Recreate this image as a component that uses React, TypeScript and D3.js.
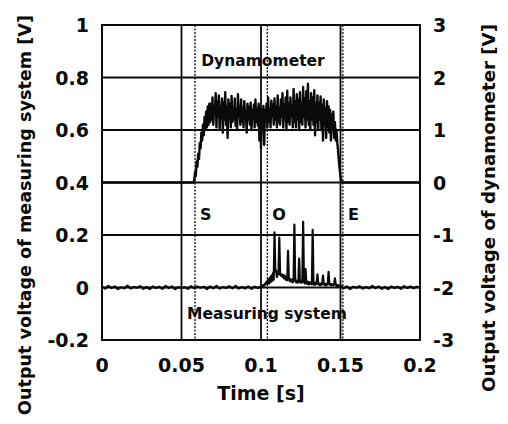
import React from "react";
import * as d3 from "d3";

// ---------- data ----------
const xTicks = [0, 0.05, 0.1, 0.15, 0.2];
const xTickLabels = ["0", "0.05", "0.1", "0.15", "0.2"];
const leftTicks = [-0.2, 0, 0.2, 0.4, 0.6, 0.8, 1];
const leftTickLabels = ["-0.2", "0", "0.2", "0.4", "0.6", "0.8", "1"];
const rightTicks = [-3, -2, -1, 0, 1, 2, 3];
const rightTickLabels = ["-3", "-2", "-1", "0", "1", "2", "3"];

const markerTimes = [0.0585, 0.104, 0.1515];
const markerLabels = ["S", "O", "E"];

// Dynamometer output [V] (right axis); flat 0 outside the active window
const dynBaseline = [
  [0, 0],
  [0.0578, 0],
];
const dynTail = [
  [0.151, 0],
  [0.2, 0],
];
const dynStart = 0.058;
const dynStep = 0.0005;
const dynValues = [
  0.05, 0.2, 0.12, 0.4, 0.3, 0.55, 0.45, 0.75, 0.65, 0.95,
  0.8, 1.1, 0.9, 1.25, 1.0, 1.35, 1.05, 1.45, 1.1, 1.5,
  1.15, 1.5, 1.2, 1.62, 1.1, 1.45, 1.3, 1.7, 1.05, 1.55,
  1.25, 1.66, 1.0, 1.4, 1.35, 1.6, 0.95, 1.52, 1.2, 1.72,
  1.1, 1.45, 0.85, 1.58, 1.3, 1.48, 1.05, 1.65, 1.15, 1.4,
  1.2, 1.6, 1.08, 1.38, 1.0, 1.68, 1.25, 1.45, 1.1, 1.58,
  1.15, 1.42, 1.05, 1.55, 1.25, 1.35, 0.95, 1.5, 1.2, 1.44,
  1.1, 1.52, 1.0, 1.38, 1.22, 1.48, 1.05, 1.58, 1.15, 1.4,
  1.08, 1.5, 0.8, 1.42, 0.65, 1.3, 1.1, 1.46, 0.72, 1.38,
  1.2, 1.5, 1.05, 1.62, 1.15, 1.4, 1.05, 1.56, 1.25, 1.48,
  1.1, 1.6, 1.2, 1.45, 1.05, 1.66, 1.15, 1.42, 1.1, 1.58,
  1.25, 1.7, 1.05, 1.48, 1.2, 1.62, 1.0, 1.75, 1.15, 1.5,
  1.1, 1.62, 1.25, 1.45, 1.05, 1.78, 1.15, 1.55, 1.05, 1.68,
  1.2, 1.58, 1.0, 1.72, 1.15, 1.5, 1.1, 1.82, 1.25, 1.6,
  1.05, 1.74, 1.2, 1.88, 1.1, 1.55, 1.0, 1.7, 1.2, 1.62,
  1.1, 1.76, 0.9, 1.5, 1.15, 1.66, 1.0, 1.52, 1.2, 1.64,
  1.0, 1.48, 0.8, 1.58, 1.1, 1.42, 0.85, 1.55, 1.05, 1.45,
  0.95, 1.38, 0.8, 1.3, 1.0, 1.35, 0.85, 1.15, 0.8, 1.0,
  0.75, 0.6, 0.4, 0.25, 0.1, 0.02,
];

// Measuring system output [V] (left axis)
const msPreStep = 0.002; // 0 .. 0.098
const msPreValues = [
  0.003, -0.004, 0.006, -0.002, 0.004, -0.006, 0.001, -0.003, 0.007, -0.004,
  0.002, -0.001, 0.005, -0.005, 0.002, -0.006, 0.004, -0.002, 0.003, -0.005,
  0.006, -0.002, 0.004, -0.006, 0.002, -0.003, 0.001, -0.005, 0.005, -0.003,
  0.004, -0.001, 0.003, -0.006, 0.004, -0.003, 0.006, -0.004, 0.002, -0.002,
  0.005, -0.003, 0.006, -0.004, 0.002, -0.004, 0.004, -0.005, 0.003, -0.002,
];
const msEventStart = 0.1;
const msEventStep = 0.0005; // 0.1 .. 0.15
const msEventValues = [
  0.004, 0.006, 0.003, 0.01, 0.008, 0.015, 0.012, 0.022, 0.018, 0.03,
  0.015, 0.038, 0.02, 0.045, 0.025, 0.055, 0.03, 0.21, 0.06, 0.065,
  0.04, 0.06, 0.05, 0.19, 0.055, 0.045, 0.05, 0.04, 0.048, 0.035,
  0.045, 0.03, 0.04, 0.028, 0.14, 0.035, 0.025, 0.032, 0.022, 0.03,
  0.02, 0.028, 0.24, 0.03, 0.02, 0.026, 0.018, 0.025, 0.11, 0.02,
  0.026, 0.018, 0.024, 0.25, 0.022, 0.015, 0.07, 0.02, 0.014, 0.022,
  0.012, 0.02, 0.014, 0.018, 0.012, 0.22, 0.016, 0.01, 0.018, 0.012,
  0.02, 0.05, 0.012, 0.016, 0.009, 0.015, 0.01, 0.018, 0.045, 0.012,
  0.015, 0.008, 0.014, 0.01, 0.016, 0.06, 0.012, 0.01, 0.014, 0.008,
  0.012, 0.009, 0.013, 0.035, 0.01, 0.006, 0.01, 0.005, 0.008, 0.004,
  0.006,
];
const msPostStart = 0.152;
const msPostStep = 0.002; // 0.152 .. 0.2
const msPostValues = [
  -0.003, 0.004, -0.006, 0.003, -0.001, 0.005, -0.004, 0.002, -0.003, 0.006,
  -0.002, 0.004, -0.005, 0.002, -0.006, 0.004, -0.002, 0.003, -0.005, 0.005,
  -0.002, 0.004, -0.003, 0.003, -0.002,
];

// ---------- layout ----------
const W = 508;
const H = 424;
const L = 102, R = 420, T = 25, B = 340;
const FONT = "'DejaVu Sans', Verdana, sans-serif";

export default function App() {
  const x = d3.scaleLinear().domain([0, 0.2]).range([L, R]);
  const yL = d3.scaleLinear().domain([-0.2, 1]).range([B, T]);
  const yR = d3.scaleLinear().domain([-3, 3]).range([B, T]);

  const dynPts: [number, number][] = dynBaseline.map((p) => [p[0], p[1]] as [number, number]);
  dynValues.forEach((v, i) => dynPts.push([dynStart + i * dynStep, v]));
  dynTail.forEach((p) => dynPts.push([p[0], p[1]]));

  const msPts: [number, number][] = [];
  msPreValues.forEach((v, i) => msPts.push([i * msPreStep, v]));
  msEventValues.forEach((v, i) => msPts.push([msEventStart + i * msEventStep, v]));
  msPostValues.forEach((v, i) => msPts.push([msPostStart + i * msPostStep, v]));

  const dynLine = d3.line<[number, number]>().x((d) => x(d[0])).y((d) => yR(d[1]));
  const msLine = d3.line<[number, number]>().x((d) => x(d[0])).y((d) => yL(d[1]));

  const ink = "#0a0a0a";

  return (
    <svg
      width={W}
      height={H}
      style={{ position: "absolute", left: 0, top: 0, background: "#fff" }}
      fontFamily={FONT}
      fontWeight="bold"
    >
      <rect x={0} y={0} width={W} height={H} fill="#fff" />
      {/* horizontal grid */}
      {leftTicks.slice(1, -1).map((t) => (
        <line key={"h" + t} x1={L} x2={R} y1={yL(t)} y2={yL(t)} stroke={ink} strokeWidth={1.8} />
      ))}
      {/* vertical grid */}
      {xTicks.slice(1, -1).map((t) => (
        <line key={"v" + t} x1={x(t)} x2={x(t)} y1={T} y2={B} stroke={ink} strokeWidth={1.8} />
      ))}
      {/* event markers */}
      {markerTimes.map((t, i) => (
        <g key={"m" + i}>
          <line x1={x(t)} x2={x(t)} y1={T} y2={B} stroke={ink} strokeWidth={1.3} strokeDasharray="2 1.5" />
          <text x={x(t) + 5} y={220} fontSize={16} fill={ink}>
            {markerLabels[i]}
          </text>
        </g>
      ))}
      {/* series */}
      <path d={dynLine(dynPts) || ""} fill="none" stroke={ink} strokeWidth={2.4} strokeLinejoin="round" />
      <path d={msLine(msPts) || ""} fill="none" stroke={ink} strokeWidth={2.2} strokeLinejoin="round" />
      {/* frame */}
      <rect x={L} y={T} width={R - L} height={B - T} fill="none" stroke={ink} strokeWidth={2} />
      {/* in-plot labels */}
      <text x={263} y={66} fontSize={15.5} textAnchor="middle" fill={ink}>Dynamometer</text>
      <text x={267} y={319} fontSize={15.5} textAnchor="middle" fill={ink}>Measuring system</text>
      {/* x tick labels */}
      {xTicks.map((t, i) => (
        <text key={"xt" + t} x={x(t)} y={365} fontSize={19} textAnchor="middle" dominantBaseline="central" fill={ink}>
          {xTickLabels[i]}
        </text>
      ))}
      {/* left tick labels */}
      {leftTicks.map((t, i) => (
        <text key={"lt" + t} x={89} y={yL(t)} fontSize={19} textAnchor="end" dominantBaseline="central" fill={ink}>
          {leftTickLabels[i]}
        </text>
      ))}
      {/* right tick labels */}
      {rightTicks.map((t, i) => (
        <text key={"rt" + t} x={433} y={yR(t)} fontSize={19} textAnchor="start" dominantBaseline="central" fill={ink}>
          {rightTickLabels[i]}
        </text>
      ))}
      {/* axis titles */}
      <text x={261} y={400} fontSize={19} textAnchor="middle" fill={ink}>Time [s]</text>
      <text
        transform="translate(31,215) rotate(-90)"
        fontSize={17.6}
        textAnchor="middle"
        fill={ink}
      >
        Output voltage of measuring system [V]
      </text>
      <text
        transform="translate(495,208) rotate(-90)"
        fontSize={18.2}
        textAnchor="middle"
        fill={ink}
      >
        Output voltage of dynamometer [V]
      </text>
    </svg>
  );
}
